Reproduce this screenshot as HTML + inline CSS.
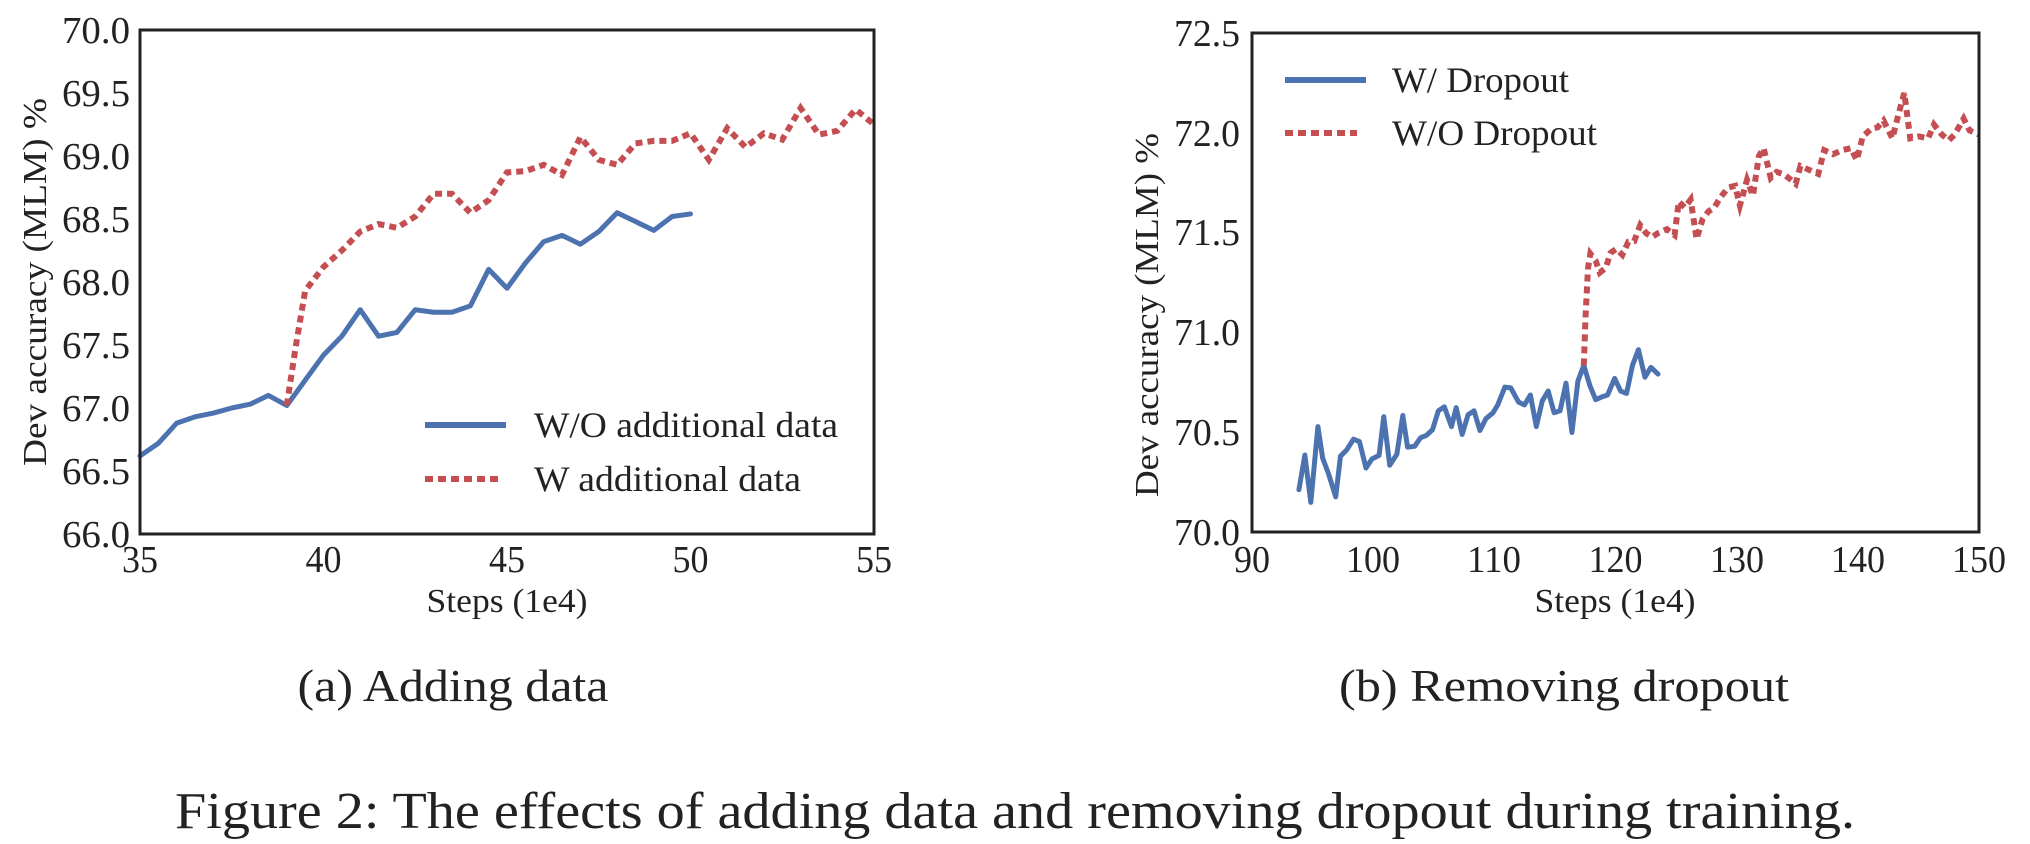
<!DOCTYPE html>
<html><head><meta charset="utf-8"><style>
html,body{margin:0;padding:0;background:#fff;}
svg{display:block;}
text{font-family:"Liberation Serif","Times New Roman",Times,serif;fill:#222;}
</style></head><body>
<svg width="2030" height="844" viewBox="0 0 2030 844" xmlns="http://www.w3.org/2000/svg">
<g transform="translate(140,534) scale(36.7,-126) translate(-35,-66)">
<polyline vector-effect="non-scaling-stroke" fill="none" stroke="#4c72b0" stroke-width="5" stroke-linejoin="round" stroke-linecap="round"
points="35,66.62 35.5,66.72 36,66.88 36.5,66.93 37,66.96 37.5,67.0 38,67.03 38.5,67.1 39,67.02 39.5,67.22 40,67.42 40.5,67.57 41,67.78 41.5,67.57 42,67.6 42.5,67.78 43,67.76 43.5,67.76 44,67.81 44.5,68.1 45,67.95 45.5,68.15 46,68.32 46.5,68.37 47,68.3 47.5,68.4 48,68.55 48.5,68.48 49,68.41 49.5,68.52 50,68.54"/>
<polyline vector-effect="non-scaling-stroke" fill="none" stroke="#c44e52" stroke-width="6" stroke-dasharray="7,5"
points="39,67.02 39.25,67.5 39.5,67.93 40,68.12 40.5,68.25 41,68.4 41.5,68.46 42,68.43 42.5,68.52 43,68.7 43.5,68.7 44,68.55 44.5,68.65 45,68.87 45.5,68.88 46,68.93 46.5,68.85 47,69.15 47.5,68.97 48,68.93 48.5,69.1 49,69.12 49.5,69.12 50,69.18 50.5,68.97 51,69.22 51.5,69.07 52,69.18 52.5,69.13 53,69.38 53.5,69.17 54,69.2 54.5,69.37 55,69.25"/>
</g>
<rect x="140" y="30" width="734" height="504" fill="none" stroke="#222" stroke-width="3"/>
<g font-size="38" text-anchor="end" lengthAdjust="spacingAndGlyphs">
<text x="130" y="43" textLength="68" lengthAdjust="spacingAndGlyphs">70.0</text><text x="130" y="106" textLength="68" lengthAdjust="spacingAndGlyphs">69.5</text><text x="130" y="169" textLength="68" lengthAdjust="spacingAndGlyphs">69.0</text>
<text x="130" y="232" textLength="68" lengthAdjust="spacingAndGlyphs">68.5</text><text x="130" y="295" textLength="68" lengthAdjust="spacingAndGlyphs">68.0</text><text x="130" y="358" textLength="68" lengthAdjust="spacingAndGlyphs">67.5</text>
<text x="130" y="421" textLength="68" lengthAdjust="spacingAndGlyphs">67.0</text><text x="130" y="484" textLength="68" lengthAdjust="spacingAndGlyphs">66.5</text><text x="130" y="547" textLength="68" lengthAdjust="spacingAndGlyphs">66.0</text>
</g>
<g font-size="38" text-anchor="middle">
<text x="140" y="572" textLength="36" lengthAdjust="spacingAndGlyphs">35</text><text x="323.5" y="572" textLength="36" lengthAdjust="spacingAndGlyphs">40</text><text x="507" y="572" textLength="36" lengthAdjust="spacingAndGlyphs">45</text>
<text x="690.5" y="572" textLength="36" lengthAdjust="spacingAndGlyphs">50</text><text x="874" y="572" textLength="36" lengthAdjust="spacingAndGlyphs">55</text>
</g>
<text x="507" y="612" font-size="34" text-anchor="middle" textLength="161" lengthAdjust="spacingAndGlyphs">Steps (1e4)</text>
<text transform="translate(46,282) rotate(-90)" font-size="34" text-anchor="middle" textLength="368" lengthAdjust="spacingAndGlyphs">Dev accuracy (MLM) %</text>
<line x1="425" y1="425" x2="506" y2="425" stroke="#4c72b0" stroke-width="6"/>
<line x1="425" y1="479" x2="500" y2="479" stroke="#c44e52" stroke-width="6" stroke-dasharray="8,5"/>
<text x="534" y="437" font-size="36" textLength="304" lengthAdjust="spacingAndGlyphs">W/O additional data</text>
<text x="534" y="491" font-size="36" textLength="267" lengthAdjust="spacingAndGlyphs">W additional data</text>

<g transform="translate(1100.1,0.2) scale(0.5935,0.3948)">
<polyline vector-effect="non-scaling-stroke" fill="none" stroke="#4c72b0" stroke-width="5" stroke-linejoin="round" stroke-linecap="round"
points="335,1240 345,1152 355,1272 367,1080 375,1160 385,1200 397,1258 405,1155 415,1140 427,1112 437,1118 448,1185 458,1162 470,1153 478,1055 488,1178 500,1150 510,1052 518,1132 530,1130 540,1108 550,1102 560,1088 570,1040 580,1030 592,1080 600,1032 610,1100 620,1050 630,1040 640,1090 650,1060 662,1045 670,1025 682,980 692,982 705,1018 715,1025 725,1000 735,1080 745,1015 755,990 765,1045 775,1040 785,970 795,1095 805,965 815,925 825,975 835,1012 845,1005 855,1000 867,958 877,990 887,996 897,925 907,885 918,955 928,930 940,947"/>
<polyline vector-effect="non-scaling-stroke" fill="none" stroke="#c44e52" stroke-width="6" stroke-dasharray="7,5"
points="815,925 818,800 822,680 826,642 835,660 842,690 852,678 860,640 870,630 880,645 890,612 900,610 910,570 920,590 930,600 940,590 955,580 968,595 975,510 985,525 995,505 1005,605 1015,555 1025,535 1035,525 1045,500 1058,475 1070,470 1078,520 1090,455 1100,495 1110,395 1118,375 1130,450 1140,435 1150,440 1160,450 1172,465 1180,420 1195,430 1210,440 1220,380 1235,390 1250,380 1265,375 1275,405 1285,345 1300,325 1310,322 1320,305 1335,350 1345,290 1355,235 1365,350 1380,345 1395,350 1405,315 1418,340 1430,355 1440,340 1455,300 1465,330 1480,340"/>
</g>
<rect x="1252" y="33" width="727" height="499" fill="none" stroke="#222" stroke-width="3"/>
<g font-size="38" text-anchor="end">
<text x="1240" y="46" textLength="66" lengthAdjust="spacingAndGlyphs">72.5</text><text x="1240" y="146" textLength="66" lengthAdjust="spacingAndGlyphs">72.0</text><text x="1240" y="245" textLength="66" lengthAdjust="spacingAndGlyphs">71.5</text>
<text x="1240" y="345" textLength="66" lengthAdjust="spacingAndGlyphs">71.0</text><text x="1240" y="445" textLength="66" lengthAdjust="spacingAndGlyphs">70.5</text><text x="1240" y="545" textLength="66" lengthAdjust="spacingAndGlyphs">70.0</text>
</g>
<g font-size="38" text-anchor="middle">
<text x="1252" y="572" textLength="36" lengthAdjust="spacingAndGlyphs">90</text><text x="1373" y="572" textLength="54" lengthAdjust="spacingAndGlyphs">100</text><text x="1494" y="572" textLength="54" lengthAdjust="spacingAndGlyphs">110</text>
<text x="1615.5" y="572" textLength="54" lengthAdjust="spacingAndGlyphs">120</text><text x="1737" y="572" textLength="54" lengthAdjust="spacingAndGlyphs">130</text><text x="1858" y="572" textLength="54" lengthAdjust="spacingAndGlyphs">140</text><text x="1979" y="572" textLength="54" lengthAdjust="spacingAndGlyphs">150</text>
</g>
<text x="1615" y="612" font-size="34" text-anchor="middle" textLength="161" lengthAdjust="spacingAndGlyphs">Steps (1e4)</text>
<text transform="translate(1158,315) rotate(-90)" font-size="34" text-anchor="middle" textLength="364" lengthAdjust="spacingAndGlyphs">Dev accuracy (MLM) %</text>
<line x1="1285" y1="80" x2="1366" y2="80" stroke="#4c72b0" stroke-width="6"/>
<line x1="1285" y1="133" x2="1357" y2="133" stroke="#c44e52" stroke-width="6" stroke-dasharray="8,5"/>
<text x="1392" y="92" font-size="36" textLength="177" lengthAdjust="spacingAndGlyphs">W/ Dropout</text>
<text x="1392" y="145" font-size="36" textLength="205" lengthAdjust="spacingAndGlyphs">W/O Dropout</text>

<text x="453" y="701" font-size="46" text-anchor="middle" textLength="311" lengthAdjust="spacingAndGlyphs">(a) Adding data</text>
<text x="1564" y="701" font-size="46" text-anchor="middle" textLength="450" lengthAdjust="spacingAndGlyphs">(b) Removing dropout</text>
<text x="1015" y="828" font-size="52" text-anchor="middle" textLength="1680" lengthAdjust="spacingAndGlyphs">Figure 2: The effects of adding data and removing dropout during training.</text>
</svg>
</body></html>
